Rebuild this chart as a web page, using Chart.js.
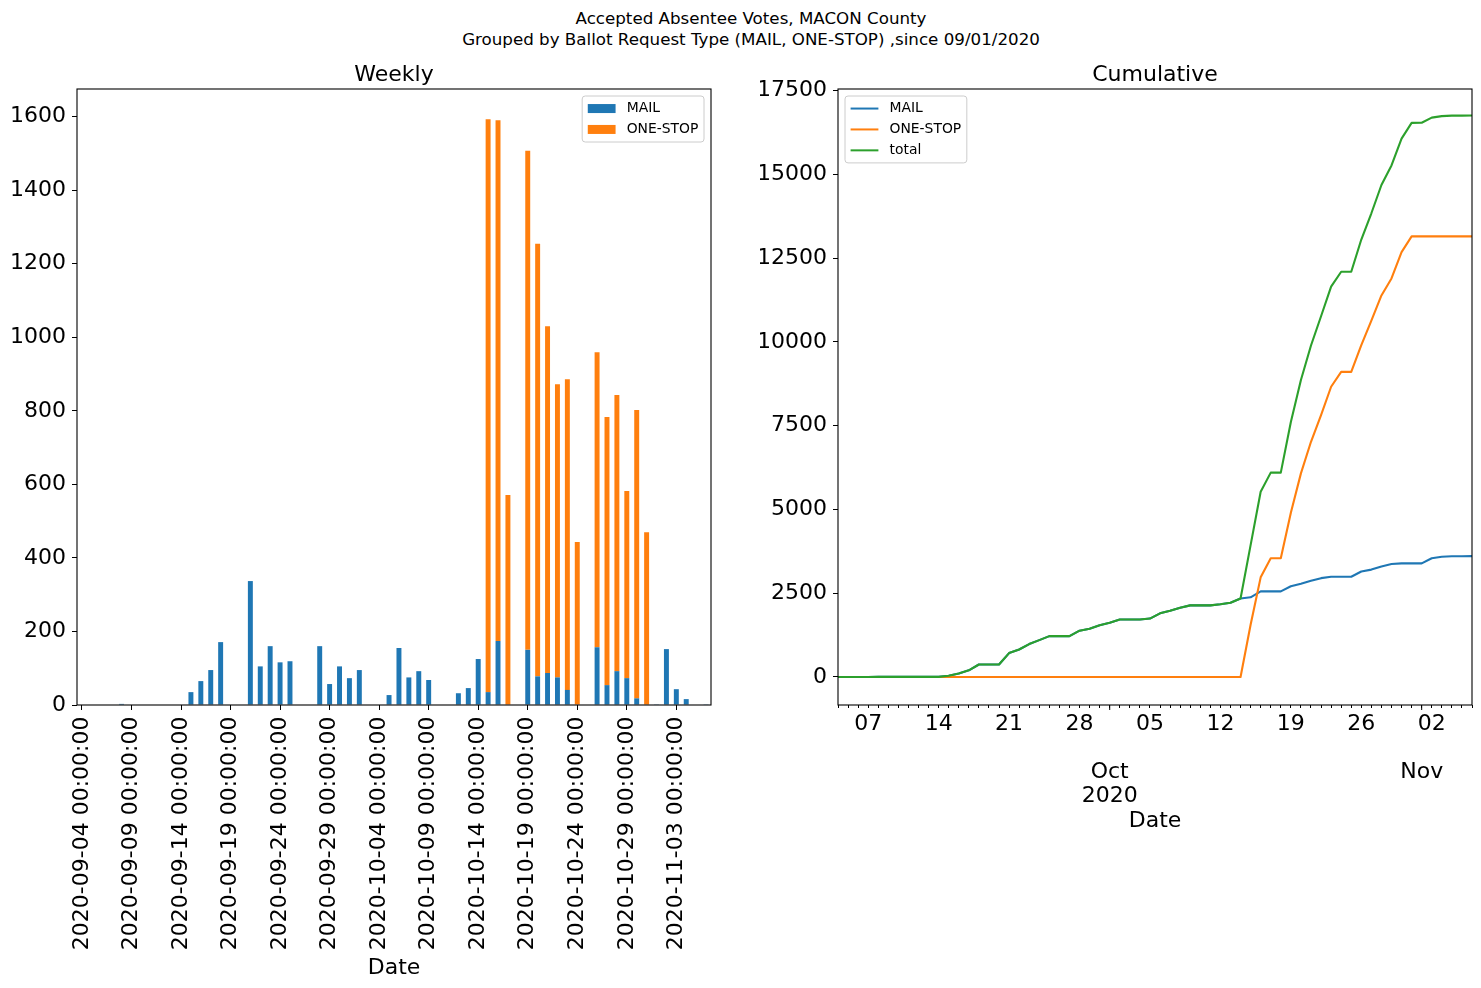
<!DOCTYPE html>
<html>
<head>
<meta charset="utf-8">
<script src="https://cdn.jsdelivr.net/npm/chart.js@4.4.0/dist/chart.umd.min.js"></script>
<style>
  body { margin: 0; background: #fff; width: 1481px; height: 988px; overflow: hidden; position: relative; font-family: "DejaVu Sans"; }
  #suptitle { position: absolute; left: 20px; width: 1462px; top: 8px; text-align: center; font-size: 16.7px; line-height: 21px; color: #000; }
  canvas { position: absolute; top: 0; }
</style>
</head>
<body>
<div id="suptitle">Accepted Absentee Votes, MACON County<br>Grouped by Ballot Request Type (MAIL, ONE-STOP) ,since 09/01/2020</div>
<canvas id="weekly" width="760" height="988" style="left:0"></canvas>
<canvas id="cumulative" width="721" height="988" style="left:760px"></canvas>
<script>
// one category per day, 2020-09-04 .. 2020-11-06
var categories = [];
for (var i = 0; i < 64; i++) {
    var d = new Date(Date.UTC(2020, 8, 4 + i));
    categories.push(d.toISOString().slice(0, 10) + " 00:00:00");
}

// daily counts (left panel)
var mailDaily = [0,0,0,0,3,0,0,0,0,0,0,35,65,95,171,0,0,337,105,160,116,119,0,0,160,57,105,73,95,0,0,
    27,155,75,92,68,0,0,32,46,125,35,174,0,0,150,78,87,75,41,0,0,157,54,92,73,18,0,2,152,43,16,0,2];
var oneStopDaily = [0,0,0,0,0,0,0,0,0,0,0,0,0,0,0,0,0,0,0,0,0,0,0,0,0,0,0,0,0,0,0,0,0,0,0,0,0,0,0,0,0,
    1558,1416,571,0,1357,1176,943,797,845,443,0,802,729,751,509,784,470,0,0,0,0,0,0];

// running totals (right panel)
var mailCum = [0,0,0,0,3,3,3,3,3,3,3,38,104,200,373,373,373,714,821,983,1100,1220,1220,1220,
    1382,1440,1546,1620,1716,1716,1716,1744,1900,1976,2069,2138,2138,2138,2171,2217,2344,2379,2555,2555,2555,
    2707,2786,2874,2950,2991,2991,2991,3150,3205,3298,3372,3390,3390,3392,3546,3590,3606,3606,3608];
var oneStopCum = [0,0,0,0,0,0,0,0,0,0,0,0,0,0,0,0,0,0,0,0,0,0,0,0,0,0,0,0,0,0,0,0,0,0,0,0,0,0,0,0,0,
    1558,2974,3545,3545,4902,6078,7021,7818,8663,9106,9106,9908,10637,11388,11897,12681,
    13151,13151,13151,13151,13151,13151,13151];
var totalCum = [0,0,0,0,3,3,3,3,3,3,3,38,104,200,373,373,373,714,821,983,1100,1220,1220,1220,
    1382,1440,1546,1620,1716,1716,1716,1744,1900,1976,2069,2138,2138,2138,2171,2217,2344,3937,5529,6100,6100,
    7609,8864,9895,10768,11654,12097,12097,13058,13842,14686,15269,16071,16541,16543,16697,16741,16757,16757,16759];

// tick labels
var weeklyTicks = [0, 200, 400, 600, 800, 1000, 1200, 1400, 1600];
var cumTicks = [0, 2500, 5000, 7500, 10000, 12500, 15000, 17500];
var weekDays = [3, 10, 17, 24, 31, 38, 45, 52, 59];
var weekDayLabels = ["07", "14", "21", "28", "05", "12", "19", "26", "02"];
var monthDays = [27, 58];
var monthLabels = [["", "", "Oct", "2020"], ["", "", "Nov"]];

var BLUE = "#1f77b4", ORANGE = "#ff7f0e", GREEN = "#2ca02c";

Chart.defaults.font.family = "DejaVu Sans";
Chart.defaults.color = "#000";

// matplotlib-like frame and in-axes legend
function frameLegend(corner, kind) {
    return {
        id: "frameLegend",
        afterDatasetsDraw: function (chart) {
            var ctx = chart.ctx, a = chart.chartArea;
            ctx.save();
            ctx.strokeStyle = "#000";
            ctx.lineWidth = 1.1;
            ctx.strokeRect(a.left, a.top, a.right - a.left, a.bottom - a.top);

            // longer month ticks on the date axis
            if (kind === "line") {
                var xs = chart.scales.x;
                ctx.lineWidth = 1;
                monthDays.forEach(function (m) {
                    var px = xs.getPixelForValue(m);
                    ctx.beginPath();
                    ctx.moveTo(px, a.bottom);
                    ctx.lineTo(px, a.bottom + 5);
                    ctx.stroke();
                });
            }

            var items = chart.data.datasets;
            var fs = 13.9, pad = 5.6, handle = 27.8, gap = 11.1, sp = 7, rowH = 13.9, axPad = 7;
            ctx.font = fs + "px 'DejaVu Sans'";
            var tw = 0;
            items.forEach(function (it) { tw = Math.max(tw, ctx.measureText(it.label).width); });
            var w = 2 * pad + handle + gap + tw;
            var h = 2 * pad + items.length * rowH + (items.length - 1) * sp;
            var x0 = corner === "right" ? a.right - axPad - w : a.left + axPad;
            var y0 = a.top + axPad;
            ctx.beginPath();
            ctx.roundRect(x0, y0, w, h, 3);
            ctx.fillStyle = "rgba(255,255,255,0.8)";
            ctx.fill();
            ctx.strokeStyle = "#cccccc";
            ctx.lineWidth = 1;
            ctx.stroke();
            items.forEach(function (it, i) {
                var cy = y0 + pad + rowH / 2 + i * (rowH + sp);
                var col = kind === "bar" ? it.backgroundColor : it.borderColor;
                if (kind === "bar") {
                    ctx.fillStyle = col;
                    ctx.fillRect(x0 + pad, cy - 4.5, handle, 9);
                } else {
                    ctx.strokeStyle = col;
                    ctx.lineWidth = 2;
                    ctx.beginPath();
                    ctx.moveTo(x0 + pad, cy);
                    ctx.lineTo(x0 + pad + handle, cy);
                    ctx.stroke();
                }
                ctx.fillStyle = "#000";
                ctx.textBaseline = "middle";
                ctx.textAlign = "left";
                ctx.fillText(it.label, x0 + pad + handle + gap, cy);
            });
            ctx.restore();
        }
    };
}

new Chart(document.getElementById("weekly").getContext("2d"), {
    type: "bar",
    data: {
        labels: categories,
        datasets: [{
            label: "MAIL",
            data: mailDaily,
            backgroundColor: BLUE,
            barPercentage: 0.5,
            categoryPercentage: 1.0
        }, {
            label: "ONE-STOP",
            data: oneStopDaily,
            backgroundColor: ORANGE,
            barPercentage: 0.5,
            categoryPercentage: 1.0
        }]
    },
    options: {
        responsive: false,
        animation: false,
        layout: { padding: { left: 0, right: 49, top: 0, bottom: 0 } },
        plugins: {
            legend: { display: false },
            tooltip: { enabled: false },
            title: {
                display: true, text: "Weekly", fullSize: false,
                font: { size: 22, weight: "normal" },
                padding: { top: 62, bottom: 0.6 }
            }
        },
        scales: {
            x: {
                stacked: true,
                offset: true,
                border: { display: false },
                grid: {
                    offset: false, drawOnChartArea: false, tickLength: 5,
                    tickColor: function (c) { return c.index % 5 === 0 ? "#000" : "rgba(0,0,0,0)"; }
                },
                ticks: {
                    autoSkip: false, maxRotation: 90, minRotation: 90, padding: 6.5,
                    font: { size: 22 },
                    callback: function (value, index) { return index % 5 === 0 ? this.getLabelForValue(value) : ""; }
                },
                title: { display: true, text: "Date", font: { size: 22 }, padding: { top: 0, bottom: 6.8 } },
                afterFit: function (s) { s.height = 283; }
            },
            y: {
                stacked: true,
                min: 0, max: 1675,
                border: { display: false },
                grid: { drawOnChartArea: false, tickLength: 5, color: "#000" },
                ticks: { padding: 6, font: { size: 22 }, callback: function (v) { return String(v); } },
                afterBuildTicks: function (s) { s.ticks = weeklyTicks.map(function (v) { return { value: v }; }); },
                afterFit: function (s) { s.width = 77; }
            }
        }
    },
    plugins: [frameLegend("right", "bar")]
});

function points(arr) {
    return arr.map(function (v, i) { return { x: i, y: v }; });
}

new Chart(document.getElementById("cumulative").getContext("2d"), {
    type: "line",
    data: {
        datasets: [{
            label: "MAIL", data: points(mailCum), borderColor: BLUE, order: 2
        }, {
            label: "ONE-STOP", data: points(oneStopCum), borderColor: ORANGE, order: 1
        }, {
            label: "total", data: points(totalCum), borderColor: GREEN, order: 0
        }]
    },
    options: {
        responsive: false,
        animation: false,
        elements: {
            line: { borderWidth: 2.1, tension: 0, fill: false, borderJoinStyle: "round" },
            point: { radius: 0 }
        },
        layout: { padding: { left: 0, right: 9, top: 0, bottom: 150 } },
        plugins: {
            legend: { display: false },
            tooltip: { enabled: false },
            title: {
                display: true, text: "Cumulative", fullSize: false,
                font: { size: 22, weight: "normal" },
                padding: { top: 62, bottom: 0.6 }
            }
        },
        scales: {
            x: {
                type: "linear",
                min: 0, max: categories.length - 1,
                border: { display: false },
                grid: { drawOnChartArea: false, tickLength: 3, color: "#000" },
                ticks: {
                    autoSkip: false, maxRotation: 0, padding: 4,
                    font: { size: 22, lineHeight: 24 / 22 },
                    callback: function (v) {
                        var w = weekDays.indexOf(v);
                        if (w >= 0) return weekDayLabels[w];
                        var m = monthDays.indexOf(v);
                        if (m >= 0) return monthLabels[m];
                        return "";
                    }
                },
                afterBuildTicks: function (s) { s.ticks = categories.map(function (c, i) { return { value: i }; }); },
                title: { display: true, text: "Date", font: { size: 22 }, padding: { top: 0, bottom: 3.8 } },
                afterFit: function (s) { s.height = 133; }
            },
            y: {
                min: -836, max: 17551,
                border: { display: false },
                grid: { drawOnChartArea: false, tickLength: 5, color: "#000" },
                ticks: { padding: 6, font: { size: 22 }, callback: function (v) { return String(v); } },
                afterBuildTicks: function (s) { s.ticks = cumTicks.map(function (v) { return { value: v }; }); },
                afterFit: function (s) { s.width = 78; }
            }
        }
    },
    plugins: [frameLegend("left", "line")]
});
</script>
</body>
</html>
